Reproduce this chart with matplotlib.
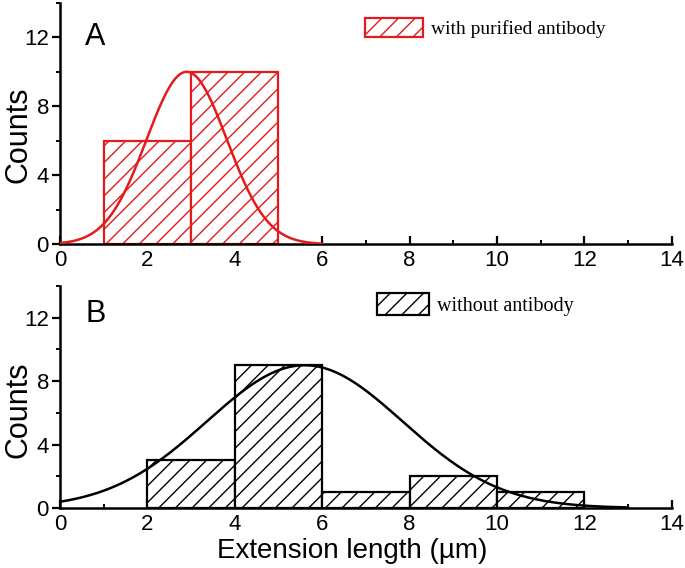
import numpy as np
import matplotlib
matplotlib.use("Agg")
from matplotlib import pyplot as plt
from matplotlib.ticker import MultipleLocator

# histogram bins (left edge) and counts
a_left = [1, 3]
a_counts = [6, 10]
b_left = [2, 4, 6, 8, 10]
b_counts = [3, 9, 1, 2, 1]
bin_width = 2

# gaussian fit parameters: amplitude, centre, sigma, x-range
a_fit = (10.0, 2.9, 0.92, 0.0, 6.0)
b_fit = (9.0, 5.6, 2.24, 0.0, 13.0)

x_ticks = [0, 2, 4, 6, 8, 10, 12, 14]
y_ticks = [0, 4, 8, 12]

plt.rcParams['font.family'] = ['Liberation Sans', 'DejaVu Sans']
plt.rcParams['hatch.linewidth'] = 1.0

W, H = 685, 568
fig = plt.figure(figsize=(6.85, 5.68), dpi=100)
ax_a = fig.add_axes([0.0876, 0.570, 0.893, 0.425])
ax_b = fig.add_axes([0.0876, 0.1056, 0.893, 0.391])


def draw_panel(ax, left, counts, fit, color, label):
    plt.rcParams['hatch.color'] = color
    bars = ax.bar(left, counts, width=bin_width, align='edge', facecolor='white',
                  edgecolor=color, hatch='//', linewidth=1.6, label=label, zorder=2)
    amp, mu, sig, x0, x1 = fit
    xs = np.linspace(x0, x1, 300)
    ax.plot(xs, amp * np.exp(-(xs - mu) ** 2 / (2 * sig ** 2)), color=color, lw=1.8, zorder=3)

    ax.set_xlim(0, 14)
    ax.set_ylim(0, 14)
    ax.set_xticks(x_ticks)
    ax.set_yticks(y_ticks)
    ax.xaxis.set_minor_locator(MultipleLocator(1))
    ax.yaxis.set_minor_locator(MultipleLocator(2))
    ax.spines['top'].set_visible(False)
    ax.spines['right'].set_visible(False)
    ax.spines['left'].set_linewidth(1.8)
    ax.spines['bottom'].set_linewidth(1.8)
    ax.tick_params(axis='x', which='major', direction='in', length=6, width=1.6, labelsize=16, pad=4)
    ax.tick_params(axis='x', which='minor', direction='in', length=3, width=1.4)
    ax.tick_params(axis='y', which='major', direction='out', length=6, width=1.6, labelsize=16, pad=2)
    ax.tick_params(axis='y', which='minor', direction='out', length=3, width=1.4)
    return bars


bars_a = draw_panel(ax_a, a_left, a_counts, a_fit, '#e41a1c', 'with purified antibody')
ax_a.legend(handles=[bars_a], loc='upper left', bbox_to_anchor=(365 / W, 1 - 18 / H),
            bbox_transform=fig.transFigure, frameon=False, borderpad=0, borderaxespad=0,
            handlelength=3.0, handleheight=1.15, handletextpad=0.4,
            prop={'family': 'Liberation Serif', 'size': 14})
fig.text(85 / W, 1 - 22 / H, 'A', fontsize=22, va='top', ha='left')
fig.text(3 / W, 1 - 135 / H, 'Counts', fontsize=22, rotation=90, ha='left', va='center')

bars_b = draw_panel(ax_b, b_left, b_counts, b_fit, 'black', 'without antibody')
ax_b.legend(handles=[bars_b], loc='upper left', bbox_to_anchor=(377 / W, 1 - 293 / H),
            bbox_transform=fig.transFigure, frameon=False, borderpad=0, borderaxespad=0,
            handlelength=2.6, handleheight=1.3, handletextpad=0.4,
            prop={'family': 'Liberation Serif', 'size': 14.5})
fig.text(85 / W, 1 - 299 / H, 'B', fontsize=22, va='top', ha='left')
fig.text(3 / W, 1 - 410 / H, 'Counts', fontsize=22, rotation=90, ha='left', va='center')

ax_b.set_xlabel('Extension length (µm)', fontsize=20)
ax_b.xaxis.set_label_coords(0.477, -0.135)

fig.savefig('out.png', dpi=100)
